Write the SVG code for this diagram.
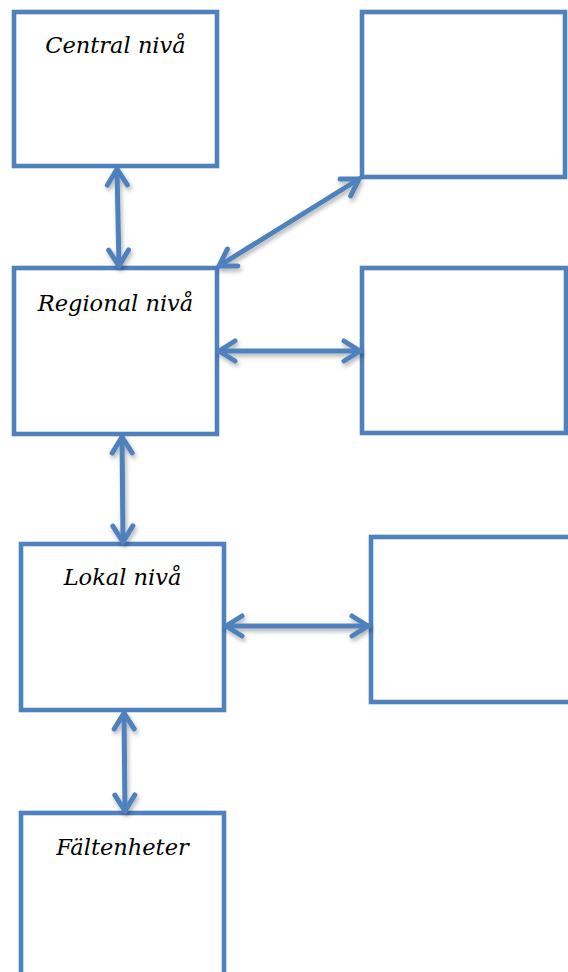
<svg xmlns="http://www.w3.org/2000/svg" width="568" height="972" viewBox="0 0 568 972">
<style>
.box{fill:#fff;stroke:#4F81BD;stroke-width:4.6}
.lbl{font-family:"DejaVu Serif","Liberation Serif",serif;font-style:italic;font-size:22.5px;fill:#000;text-anchor:middle}
.con{stroke:#4F81BD;stroke-width:5;fill:none;stroke-linecap:round}
</style>
<defs>
<marker id="ah" markerUnits="userSpaceOnUse" viewBox="-20 -20 40 40" markerWidth="40" markerHeight="40" refX="0" refY="0" orient="auto-start-reverse" overflow="visible">
<path d="M-16,-10 L0,0 L-16,10" fill="none" stroke="#4F81BD" stroke-width="5" stroke-linecap="round" stroke-linejoin="round"/>
</marker>
<filter id="sh" x="-20%" y="-20%" width="140%" height="140%">
<feDropShadow dx="1.5" dy="3" stdDeviation="2" flood-color="#000" flood-opacity="0.3"/>
</filter>
</defs>
<g id="central"><rect class="box" x="14" y="12" width="203" height="154"/><text class="lbl" x="115.5" y="53">Central nivå</text></g>
<g id="box-top-right"><rect class="box" x="362" y="12" width="203" height="165"/></g>
<g id="regional"><rect class="box" x="14" y="268" width="203" height="166"/><text class="lbl" x="115.5" y="311">Regional nivå</text></g>
<g id="box-mid-right"><rect class="box" x="362" y="268" width="204" height="165"/></g>
<g id="lokal"><rect class="box" x="21" y="544" width="203" height="166"/><text class="lbl" x="122.5" y="585">Lokal nivå</text></g>
<g id="box-low-right"><rect class="box" x="371" y="537" width="210" height="165"/></g>
<g id="faltenheter"><rect class="box" x="21" y="813" width="203" height="180"/><text class="lbl" x="122.5" y="855">Fältenheter</text></g>
<g id="connectors" filter="url(#sh)">
<line class="con" x1="117" y1="169" x2="119" y2="266" marker-start="url(#ah)" marker-end="url(#ah)"/>
<line class="con" x1="219" y1="266" x2="359" y2="179" marker-start="url(#ah)" marker-end="url(#ah)"/>
<line class="con" x1="219" y1="351" x2="360" y2="351" marker-start="url(#ah)" marker-end="url(#ah)"/>
<line class="con" x1="122" y1="437" x2="123" y2="542" marker-start="url(#ah)" marker-end="url(#ah)"/>
<line class="con" x1="226" y1="626" x2="368" y2="626" marker-start="url(#ah)" marker-end="url(#ah)"/>
<line class="con" x1="124" y1="713" x2="125" y2="811" marker-start="url(#ah)" marker-end="url(#ah)"/>
</g>
</svg>
